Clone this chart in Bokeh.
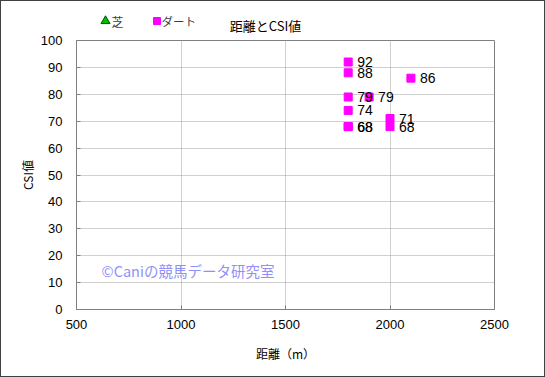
from bokeh.plotting import figure
from bokeh.models import ColumnDataSource, Label, Range1d, FixedTicker
from bokeh.layouts import column
from bokeh.embed import file_html
from bokeh.resources import INLINE
from bokeh.core.properties import value

# data
turf_dist = []
turf_csi = []
dirt_dist = [1800, 1800, 1800, 1800, 1800, 1800, 1900, 2000, 2000, 2100]
dirt_csi = [92, 88, 79, 74, 68, 68, 79, 71, 68, 86]
x_ticks = [500, 1000, 1500, 2000, 2500]
y_ticks = [0, 10, 20, 30, 40, 50, 60, 70, 80, 90, 100]
series_names = ["芝", "ダート"]
title_text = "距離とCSI値"

JP = "Noto Sans CJK JP"
LAT = "Liberation Sans"
BORDER = "1px solid #404040"
HEAD_H = 34

# ---- header strip: title + legend (pixel coordinates, y downwards) ----
head = figure(width=545, height=HEAD_H, output_backend="svg", toolbar_location=None,
              x_range=Range1d(75, 493), y_range=Range1d(HEAD_H, 0),
              x_axis_type=None, y_axis_type=None,
              min_border_left=75, min_border_right=52, min_border_top=0, min_border_bottom=0)
head.outline_line_color = None
head.styles = {"border-top": BORDER, "border-left": BORDER, "border-right": BORDER,
               "box-sizing": "border-box"}
head.scatter(x=[104], y=[19.5], marker="triangle", size=9, fill_color="#00c000", line_color="#005000")
head.add_layout(Label(x=110, y=19.5, text=series_names[0], text_baseline="middle",
                      text_font=JP, text_font_size="12px", text_color="#404040"))
head.scatter(x=[155.5], y=[19.5], marker="square", size=7, fill_color="#ff00ff", line_color="#ff00ff")
head.add_layout(Label(x=160, y=19.5, text=series_names[1], text_baseline="middle",
                      text_font=JP, text_font_size="11.5px", text_color="#404040"))
head.add_layout(Label(x=264, y=23.5, text=title_text, text_align="center", text_baseline="middle",
                      text_font=JP, text_font_size="13px", text_color="black"))

# ---- main chart ----
p = figure(width=545, height=377 - HEAD_H, output_backend="svg", toolbar_location=None,
           x_range=Range1d(500, 2500), y_range=Range1d(0, 100),
           min_border_left=75, min_border_right=52, min_border_top=40 - HEAD_H, min_border_bottom=68)
p.styles = {"border-bottom": BORDER, "border-left": BORDER, "border-right": BORDER,
            "box-sizing": "border-box"}
p.outline_line_color = "#808080"
p.background_fill_color = "white"
p.border_fill_color = "white"

p.xaxis.ticker = FixedTicker(ticks=x_ticks)
p.yaxis.ticker = FixedTicker(ticks=y_ticks)
for ax in (p.xaxis[0], p.yaxis[0]):
    ax.axis_line_color = "#808080"
    ax.major_tick_line_color = "#808080"
    ax.major_tick_in = 4
    ax.major_tick_out = 0
    ax.minor_tick_line_color = None
    ax.major_label_text_font = LAT
    ax.major_label_text_font_size = "13px"
    ax.major_label_text_color = "black"
    ax.axis_label_text_font = JP
    ax.axis_label_text_font_size = "12px"
    ax.axis_label_text_font_style = "normal"
    ax.axis_label_text_color = "black"
p.xaxis.axis_label = "距離（m）"
p.yaxis.axis_label = "CSI値"
p.xaxis.major_label_standoff = 10
p.yaxis.major_label_standoff = 14
p.xaxis.axis_label_standoff = 13
p.yaxis.axis_label_standoff = 2

for g in (p.xgrid[0], p.ygrid[0]):
    g.grid_line_color = "#a0a0a0"
    g.grid_line_dash = "1 1"
    g.grid_line_width = 1

turf = ColumnDataSource(dict(x=turf_dist, y=turf_csi))
dirt = ColumnDataSource(dict(x=dirt_dist, y=dirt_csi, t=[str(v) for v in dirt_csi]))

p.scatter("x", "y", source=turf, marker="triangle", size=8, fill_color="#00c000", line_color="#005000")
p.scatter("x", "y", source=dirt, marker="square", size=8, fill_color="#ff00ff", line_color="#ff00ff")
p.text("x", "y", text="t", source=dirt, x_offset=9, text_baseline="middle",
       text_font=value(LAT), text_font_size="14px", text_color="black")

# watermark
p.add_layout(Label(x=620, y=14.5, text="©Caniの競馬データ研究室", text_align="left", text_baseline="middle",
                   text_font=JP, text_font_size="14.5px", text_color="#9090f8"))

layout = column(head, p, spacing=0)
open("out.html", "w").write(file_html(layout, INLINE))
